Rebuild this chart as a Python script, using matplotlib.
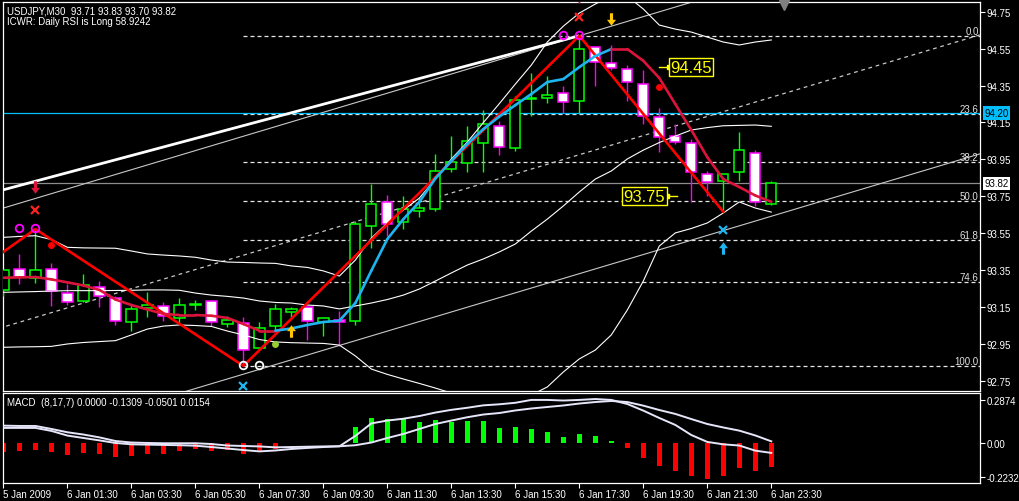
import numpy as np
import matplotlib
matplotlib.use("Agg")
import matplotlib.pyplot as plt
from matplotlib.path import Path
from matplotlib.collections import LineCollection
from matplotlib.transforms import blended_transform_factory

plt.rcParams['font.family'] = ['Liberation Sans', 'DejaVu Sans']

# ---------------- DATA ----------------
symbol_title = "USDJPY,M30  93.71 93.83 93.70 93.82"
rsi_title = "ICWR: Daily RSI is Long 58.9242"
macd_title = "MACD  (8,17,7) 0.0000 -0.1309 -0.0501 0.0154"

tick_bars = [0, 4, 8, 12, 16, 20, 24, 28, 32, 36, 40, 44, 48]
time_labels = ["5 Jan 2009", "6 Jan 01:30", "6 Jan 03:30", "6 Jan 05:30",
               "6 Jan 07:30", "6 Jan 09:30", "6 Jan 11:30", "6 Jan 13:30",
               "6 Jan 15:30", "6 Jan 17:30", "6 Jan 19:30", "6 Jan 21:30",
               "6 Jan 23:30"]

opens = [93.24, 93.355, 93.305, 93.355, 93.225, 93.183, 93.256, 93.198, 93.067, 93.144,
         93.153, 93.091, 93.160, 93.183, 93.056, 93.064, 92.926, 93.045, 93.124, 93.148,
         93.070, 93.079, 93.075, 93.587, 93.720, 93.609, 93.668, 93.681, 93.897, 93.928,
         94.037, 94.130, 94.010, 94.275, 94.284, 94.309, 94.268, 94.557, 94.472, 94.438,
         94.357, 94.178, 94.075, 94.037, 93.869, 93.834, 93.880, 93.986, 93.71]
highs = [93.35, 93.437, 93.572, 93.388, 93.274, 93.328, 93.292, 93.209, 93.166, 93.232,
         93.175, 93.197, 93.187, 93.187, 93.102, 93.094, 93.067, 93.166, 93.148, 93.150,
         93.094, 93.130, 93.617, 93.816, 93.756, 93.749, 93.739, 93.979, 94.075, 94.129,
         94.219, 94.159, 94.295, 94.418, 94.403, 94.349, 94.62, 94.563, 94.570, 94.461,
         94.436, 94.226, 94.140, 94.060, 93.888, 93.870, 94.096, 94.000, 93.83]
lows = [93.21, 93.274, 93.278, 93.153, 93.160, 93.177, 93.148, 93.052, 93.021, 93.094,
        93.075, 93.057, 93.135, 93.048, 93.040, 92.83, 92.917, 93.021, 93.094, 92.972,
        92.994, 92.940, 93.053, 93.468, 93.536, 93.572, 93.636, 93.670, 93.879, 93.879,
        93.879, 93.973, 93.997, 94.186, 94.255, 94.201, 94.201, 94.346, 94.436, 94.268,
        94.141, 93.988, 94.033, 93.717, 93.753, 93.666, 93.834, 93.695, 93.70]
closes = [93.35, 93.314, 93.350, 93.235, 93.175, 93.269, 93.207, 93.075, 93.139, 93.162,
          93.099, 93.162, 93.162, 93.067, 93.079, 92.916, 93.034, 93.137, 93.137, 93.075,
          93.088, 93.067, 93.598, 93.708, 93.598, 93.681, 93.684, 93.885, 93.937, 94.047,
          94.141, 94.015, 94.271, 94.280, 94.299, 94.259, 94.548, 94.476, 94.446, 94.367,
          94.186, 94.069, 94.045, 93.880, 93.825, 93.869, 94.001, 93.717, 93.82]

# two-colour moving average and its trend state (1 = rising/blue)
ma_values = [93.308, 93.310, 93.312, 93.299, 93.283, 93.266, 93.242, 93.190, 93.160, 93.136,
             93.112, 93.106, 93.106, 93.102, 93.090, 93.057, 93.021, 93.021, 93.033, 93.052,
             93.068, 93.075, 93.171, 93.347, 93.518, 93.626, 93.719, 93.846, 93.941, 94.033,
             94.114, 94.182, 94.244, 94.304, 94.369, 94.385, 94.450, 94.510, 94.548, 94.548,
             94.484, 94.391, 94.250, 94.109, 93.962, 93.843, 93.800, 93.754, 93.720]
ma_trend = [0] * 17 + [1] * 22 + [0] * 10

bb_upper = [93.527, 93.532, 93.536, 93.515, 93.473, 93.470, 93.469, 93.468, 93.453, 93.437,
            93.431, 93.426, 93.419, 93.404, 93.393, 93.391, 93.388, 93.386, 93.372, 93.364,
            93.345, 93.317, 93.404, 93.523, 93.605, 93.675, 93.740, 93.843, 93.952, 94.044,
            94.149, 94.252, 94.358, 94.461, 94.586, 94.672, 94.743, 94.792, 94.835, 94.835,
            94.765, 94.678, 94.656, 94.640, 94.613, 94.586, 94.570, 94.586, 94.597]
bb_middle = [93.229, 93.231, 93.233, 93.236, 93.238, 93.238, 93.238, 93.239, 93.240, 93.242,
             93.242, 93.240, 93.225, 93.214, 93.207, 93.198, 93.182, 93.174, 93.171, 93.160,
             93.155, 93.139, 93.155, 93.171, 93.190, 93.214, 93.247, 93.290, 93.334, 93.377,
             93.410, 93.448, 93.491, 93.561, 93.626, 93.697, 93.773, 93.843, 93.887, 93.952,
             94.000, 94.041, 94.076, 94.109, 94.122, 94.132, 94.134, 94.136, 94.129]
bb_lower = [92.931, 92.933, 92.934, 92.936, 92.949, 92.957, 92.962, 92.967, 92.998, 93.030,
            93.046, 93.052, 93.049, 93.044, 93.019, 92.998, 92.973, 92.960, 92.956, 92.954,
            92.952, 92.943, 92.884, 92.813, 92.784, 92.759, 92.735, 92.710, 92.683, 92.667,
            92.656, 92.651, 92.656, 92.672, 92.716, 92.797, 92.868, 92.916, 92.998, 93.133,
            93.290, 93.480, 93.551, 93.575, 93.605, 93.659, 93.719, 93.686, 93.664]

zigzag_bars = [-1, 2, 15, 36, 45]
zigzag_prices = [93.387, 93.572, 92.83, 94.62, 93.666]

fib_high, fib_low, fib_start_bar = 94.62, 92.83, 15
fib_pcts = [0.0, 23.6, 38.2, 50.0, 61.8, 74.6, 100.0]

trend_bars = [0, 36]
trend_prices = [93.785, 94.62]

channel_anchor_bar, channel_anchor_price = 36, 94.62
channel_slope = 0.02594      # price per bar
channel_width = 0.645        # price between parallel lines

blue_level = 94.20
last_price = 93.82
price_ticks = [92.75, 92.95, 93.15, 93.35, 93.55, 93.75, 93.95, 94.15, 94.35, 94.55, 94.75]

label_hi_bar, label_hi_price = 41.6, 94.45
label_lo_bar, label_lo_price = 41.5, 93.75

circle_mag_bars = [1, 2, 35, 36]
circle_mag_prices = [93.58, 93.58, 94.625, 94.625]
circle_white_bars = [15, 16]
circle_white_prices = [92.835, 92.835]
xmark_red_bars, xmark_red_prices = [2, 36], [93.675, 94.721]
xmark_blue_bars, xmark_blue_prices = [15, 45], [92.721, 93.567]
arrow_down_red_bars, arrow_down_red_prices = [2, 36], [93.799, 94.831]
arrow_up_gold_bars, arrow_up_gold_prices = [18], [93.019]
arrow_down_gold_bars, arrow_down_gold_prices = [38], [94.71]
arrow_up_blue_bars, arrow_up_blue_prices = [45], [93.468]
dot_red_bars, dot_red_prices = [3, 41], [93.486, 94.342]
dot_green_bars, dot_green_prices = [17], [92.949]

macd_hist = [-0.060, -0.051, -0.044, -0.060, -0.078, -0.064, -0.073, -0.091, -0.084, -0.071,
             -0.071, -0.053, -0.038, -0.051, -0.044, -0.071, -0.049, -0.035, 0.005, 0.005,
             0.005, 0.005, 0.106, 0.168, 0.159, 0.159, 0.140, 0.155, 0.140, 0.148,
             0.148, 0.100, 0.108, 0.093, 0.073, 0.040, 0.060, 0.049, 0.013, -0.033,
             -0.100, -0.151, -0.186, -0.217, -0.239, -0.217, -0.166, -0.184, -0.159]
macd_main = [0.117, 0.115, 0.115, 0.095, 0.073, 0.058, 0.039, 0.015, 0.005, 0.002,
             0.000, 0.000, 0.000, -0.005, -0.015, -0.018, -0.021, -0.027, -0.025, -0.023,
             -0.021, -0.020, 0.049, 0.132, 0.151, 0.163, 0.181, 0.204, 0.222, 0.236,
             0.252, 0.259, 0.269, 0.288, 0.288, 0.284, 0.288, 0.294, 0.288, 0.261,
             0.217, 0.168, 0.122, 0.055, 0.009, -0.007, -0.015, -0.049, -0.064]
macd_signal = [0.102, 0.102, 0.102, 0.082, 0.051, 0.035, 0.019, 0.002, -0.007, -0.009,
               -0.011, -0.013, -0.016, -0.025, -0.035, -0.045, -0.054, -0.048, -0.038, -0.031,
               -0.025, -0.020, -0.013, 0.005, 0.035, 0.062, 0.095, 0.128, 0.151, 0.173,
               0.191, 0.201, 0.218, 0.231, 0.241, 0.251, 0.264, 0.274, 0.281, 0.274,
               0.250, 0.221, 0.195, 0.161, 0.128, 0.105, 0.084, 0.052, 0.013]
macd_ticks = [-0.2232, 0.0, 0.2874]
macd_tick_labels = ["-0.2232", "0.00", "0.2874"]

# ---------------- FIGURE ----------------
W, H = 1020, 502
fig = plt.figure(figsize=(W / 100, H / 100), dpi=100, facecolor='black')


def rect(l, t, r, b):
    return [l / W, 1 - b / H, (r - l) / W, (b - t) / H]


ax = fig.add_axes(rect(3, 3, 980, 392))
ax2 = fig.add_axes(rect(3, 394, 980, 484))
for a in (ax, ax2):
    a.set_facecolor('black')
    for s in a.spines.values():
        s.set_color('white')
        s.set_linewidth(0.9)

n = len(opens)
xs = np.arange(n)
XMAX = 61.05
ax.set_xlim(-0.03, XMAX)
ax.set_ylim(92.694, 94.803)
ax2.set_xlim(-0.03, XMAX)
ax2.set_ylim(-0.264, 0.334)

FS = 7
# right price axis
ax.yaxis.tick_right()
ax.set_yticks(price_ticks)
ax.set_yticklabels([f"{p:.2f}" for p in price_ticks])
ax.tick_params(axis='y', colors='white', labelcolor='white', length=3.5, width=0.8,
               pad=1.5, labelsize=FS)
ax.set_xticks([])

ax2.yaxis.tick_right()
ax2.set_yticks(macd_ticks)
ax2.set_yticklabels(macd_tick_labels)
ax2.tick_params(axis='y', colors='white', labelcolor='white', length=3.5, width=0.8,
                pad=1.5, labelsize=FS)
ax2.set_xticks(tick_bars)
ax2.set_xticklabels(time_labels)
ax2.tick_params(axis='x', colors='white', labelcolor='white', length=3.5, width=0.8,
                pad=1.0, labelsize=FS)
for lbl in ax2.get_xticklabels():
    lbl.set_horizontalalignment('left')

# ---- horizontal lines ----
ax.axhline(last_price, color='#8c8c8c', lw=0.9, zorder=1)

fib_levels = [fib_high - p / 100.0 * (fib_high - fib_low) for p in fib_pcts]
for p, lev in zip(fib_pcts, fib_levels):
    ax.plot([fib_start_bar, XMAX], [lev, lev], color='#e6e6e6', lw=0.9,
            dashes=(3.2, 2.4), zorder=1)
    ax.text(0.9985, lev, f"{p:.1f}", transform=blended_transform_factory(ax.transAxes, ax.transData),
            ha='right', va='bottom', color='#e0e0e0', fontsize=FS, zorder=2)
ax.axhline(blue_level, color='#00bfff', lw=0.9, zorder=1.5)

# ---- channel lines ----
cx = np.array([-2.0, XMAX + 2])
upper_ch = channel_anchor_price + channel_slope * (cx - channel_anchor_bar)
ax.plot(cx, upper_ch, color='#c8c8c8', lw=0.8, zorder=1)
ax.plot(cx, upper_ch - channel_width, color='#c8c8c8', lw=0.9, dashes=(3, 3), zorder=1)
ax.plot(cx, upper_ch - 2 * channel_width, color='#c8c8c8', lw=0.8, zorder=1)

# thick trend line
ax.plot(trend_bars, trend_prices, color='white', lw=2.0, zorder=2, solid_capstyle='butt')

# ---- candles ----
for i in xs:
    o, h, l, c = opens[i], highs[i], lows[i], closes[i]
    up = c >= o
    col = '#00ff00' if up else '#ff00ff'
    ax.vlines(i, l, h, color=col, lw=1.0, zorder=3)
    bottom = min(o, c)
    height = max(abs(c - o), 0.003)
    ax.bar(i, height, bottom=bottom, width=0.64, facecolor='black' if up else 'white',
           edgecolor=col, linewidth=1.1, zorder=4)

# ---- Bollinger bands ----
for band in (bb_upper, bb_middle, bb_lower):
    ax.plot(xs, band, color='white', lw=0.8, zorder=5)

# ---- zigzag ----
ax.plot(zigzag_bars, zigzag_prices, color='#ff0000', lw=1.9, zorder=6)

# ---- two-colour MA ----
segs, cols = [], []
for i in range(n - 1):
    segs.append([(xs[i], ma_values[i]), (xs[i + 1], ma_values[i + 1])])
    cols.append('#1eb4f0' if (ma_trend[i] and ma_trend[i + 1]) else '#dc143c')
ax.add_collection(LineCollection(segs, colors=cols, linewidths=1.9, zorder=6,
                                 capstyle='round'))

# ---- markers ----
up_arrow = Path([(-0.25, -1), (0.25, -1), (0.25, 0.05), (0.72, 0.05), (0, 1),
                 (-0.72, 0.05), (-0.25, 0.05), (-0.25, -1)],
                [Path.MOVETO] + [Path.LINETO] * 6 + [Path.CLOSEPOLY])
down_arrow = Path(up_arrow.vertices * np.array([1, -1]), up_arrow.codes)

ax.plot(circle_mag_bars, circle_mag_prices, 'o', ms=5.5, mfc='none', mec='#ff00ff', mew=1.3, zorder=8)
ax.plot(circle_white_bars, circle_white_prices, 'o', ms=5.5, mfc='none', mec='white', mew=1.3, zorder=8)
ax.plot(xmark_red_bars, xmark_red_prices, 'x', ms=5.5, mec='#ff2020', mew=1.6, zorder=8)
ax.plot(xmark_blue_bars, xmark_blue_prices, 'x', ms=5.5, mec='#1eb4f0', mew=1.6, zorder=8)
ax.plot(arrow_down_red_bars, arrow_down_red_prices, marker=down_arrow, ls='none', ms=9,
        mfc='#dc143c', mec='none', zorder=8)
ax.plot(arrow_up_gold_bars, arrow_up_gold_prices, marker=up_arrow, ls='none', ms=9,
        mfc='#ffc800', mec='none', zorder=8)
ax.plot(arrow_down_gold_bars, arrow_down_gold_prices, marker=down_arrow, ls='none', ms=9,
        mfc='#ffc800', mec='none', zorder=8)
ax.plot(arrow_up_blue_bars, arrow_up_blue_prices, marker=up_arrow, ls='none', ms=9,
        mfc='#1eb4f0', mec='none', zorder=8)
ax.plot(dot_red_bars, dot_red_prices, 'o', ms=5, mfc='#ff0000', mec='none', zorder=8)
ax.plot(dot_green_bars, dot_green_prices, 'o', ms=5, mfc='#9acd32', mec='none', zorder=8)

# chart shift triangle
ax.plot([48.8], [0.993], marker='v', ms=7, color='#808080',
        transform=blended_transform_factory(ax.transData, ax.transAxes), clip_on=False, zorder=9)

# ---- price labels (yellow) ----
ax.plot([label_hi_bar - 0.6, label_hi_bar], [label_hi_price] * 2, color='#ffff00', lw=1, zorder=8)
ax.plot([label_hi_bar], [label_hi_price], 's', ms=3, color='#ffff00', zorder=8)
ax.text(label_hi_bar + 0.1, label_hi_price, "94.45", color='#ffff00', fontsize=12,
        ha='left', va='center', zorder=9,
        bbox=dict(boxstyle='square,pad=0.08', fc='black', ec='#ffff00', lw=1))
ax.plot([label_lo_bar, label_lo_bar + 0.6], [label_lo_price] * 2, color='#ffff00', lw=1, zorder=8)
ax.plot([label_lo_bar], [label_lo_price], 's', ms=3, color='#ffff00', zorder=8)
ax.text(label_lo_bar - 0.12, label_lo_price, "93.75", color='#ffff00', fontsize=12,
        ha='right', va='center', zorder=9,
        bbox=dict(boxstyle='square,pad=0.08', fc='black', ec='#ffff00', lw=1))

# ---- axis highlight labels ----
bt = blended_transform_factory(ax.transAxes, ax.transData)
ax.text(1.0045, blue_level, f"{blue_level:.2f}", transform=bt, ha='left', va='center',
        fontsize=FS, color='black', clip_on=False, zorder=10,
        bbox=dict(boxstyle='square,pad=0.18', fc='#00bfff', ec='none'))
ax.text(1.0045, last_price, f"{last_price:.2f}", transform=bt, ha='left', va='center',
        fontsize=FS, color='black', clip_on=False, zorder=10,
        bbox=dict(boxstyle='square,pad=0.18', fc='white', ec='none'))

# ---- titles ----
ax.text(4 / 977, 1 - 3 / 389, symbol_title, transform=ax.transAxes, color='white',
        fontsize=FS, ha='left', va='top', zorder=10)
ax.text(4 / 977, 1 - 14 / 389, rsi_title, transform=ax.transAxes, color='white',
        fontsize=FS, ha='left', va='top', zorder=10)

# ---- MACD ----
hist_cols = ['#00ff00' if v >= 0 else '#ff0000' for v in macd_hist]
ax2.bar(xs, macd_hist, width=0.32, color=hist_cols, zorder=2)
ax2.plot(xs, macd_main, color='#e6e6fa', lw=1.4, zorder=3)
ax2.plot(xs, macd_signal, color='#e6e6fa', lw=1.4, zorder=3)
ax2.text(4 / 977, 1 - 4 / 90, macd_title, transform=ax2.transAxes, color='white',
         fontsize=FS, ha='left', va='top', zorder=10)

fig.savefig('out.png', dpi=100, facecolor='black')
